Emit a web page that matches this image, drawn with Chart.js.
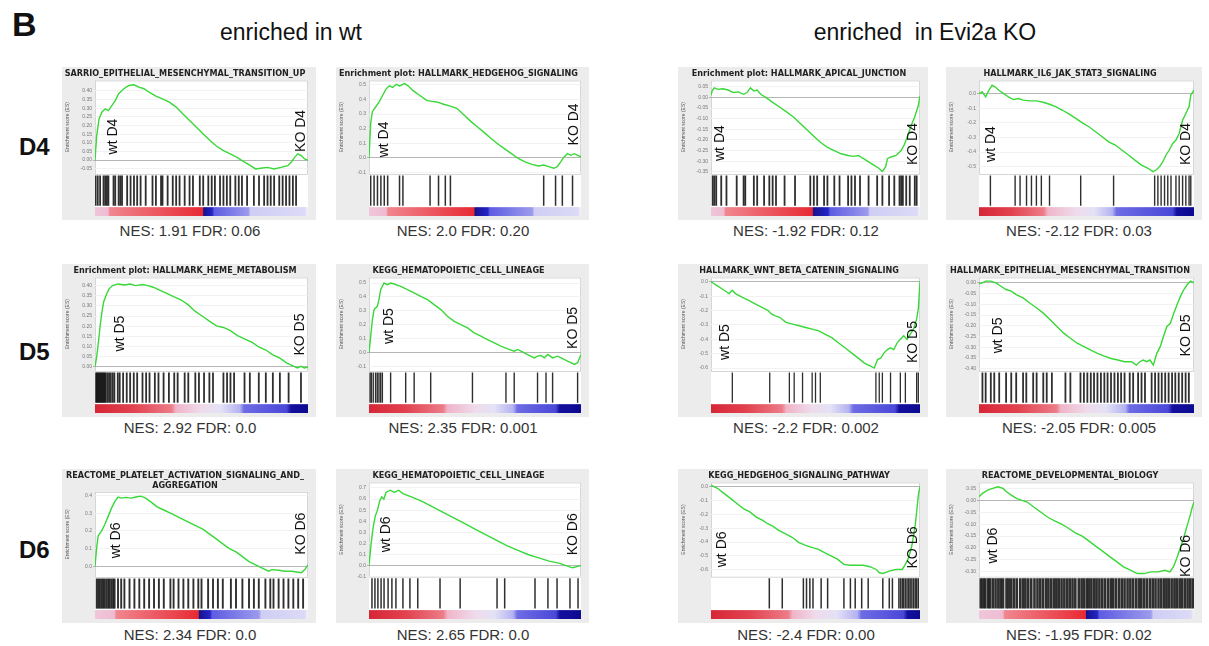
<!DOCTYPE html>
<html>
<head>
<meta charset="utf-8">
<title>GSEA enrichment plots</title>
<script src="https://cdn.jsdelivr.net/npm/chart.js"></script>
<style>
  body { margin: 0; background: #fff; font-family: "Liberation Sans", Arial, sans-serif; }
  #page { position: relative; width: 1209px; height: 646px; overflow: hidden; background: #fff; }
  .txt { position: absolute; white-space: pre; color: #111; line-height: 1; }
  .panel { position: absolute; }
  .nes { position: absolute; font-size: 15px; color: #333; white-space: nowrap; line-height: 1; transform: translate(-50%, -50%); }
  .day { position: absolute; font-size: 24px; font-weight: bold; color: #111; line-height: 1; transform: translateY(-50%); }
</style>
</head>
<body>
<div id="page">
  <div class="txt" style="left:12px;top:7px;font-size:34px;font-weight:bold;">B</div>
  <div class="txt" style="left:291px;top:32px;font-size:23px;transform:translate(-50%,-50%);">enriched in wt</div>
  <div class="txt" style="left:925px;top:32px;font-size:23px;transform:translate(-50%,-50%);">enriched  in Evi2a KO</div>
</div>

<script>
// ---------- data ----------
const rowDays = ['D4', 'D5', 'D6'];

const titles = [
  'SARRIO_EPITHELIAL_MESENCHYMAL_TRANSITION_UP',
  'Enrichment plot: HALLMARK_HEDGEHOG_SIGNALING',
  'Enrichment plot: HALLMARK_APICAL_JUNCTION',
  'HALLMARK_IL6_JAK_STAT3_SIGNALING',
  'Enrichment plot: HALLMARK_HEME_METABOLISM',
  'KEGG_HEMATOPOIETIC_CELL_LINEAGE',
  'HALLMARK_WNT_BETA_CATENIN_SIGNALING',
  'HALLMARK_EPITHELIAL_MESENCHYMAL_TRANSITION',
  ['REACTOME_PLATELET_ACTIVATION_SIGNALING_AND_', 'AGGREGATION'],
  'KEGG_HEMATOPOIETIC_CELL_LINEAGE',
  'KEGG_HEDGEHOG_SIGNALING_PATHWAY',
  'REACTOME_DEVELOPMENTAL_BIOLOGY'
];

const nesLabels = [
  'NES: 1.91 FDR: 0.06', 'NES: 2.0 FDR: 0.20', 'NES: -1.92 FDR: 0.12', 'NES: -2.12 FDR: 0.03',
  'NES: 2.92 FDR: 0.0', 'NES: 2.35 FDR: 0.001', 'NES: -2.2 FDR: 0.002', 'NES: -2.05 FDR: 0.005',
  'NES: 2.34 FDR: 0.0', 'NES: 2.65 FDR: 0.0', 'NES: -2.4 FDR: 0.00', 'NES: -1.95 FDR: 0.02'
];

// running enrichment score: [rank %, ES]
const curve1 = [[0,0],[0.8,0.142],[1.9,0.238],[3.2,0.277],[4.8,0.296],[6.3,0.286],[7.9,0.315],[9.5,0.344],[11.1,0.383],[13.5,0.412],[15.9,0.431],[18.3,0.435],[20.6,0.421],[23,0.412],[25.4,0.392],[28.6,0.369],[31.7,0.354],[34.9,0.335],[38.1,0.306],[41.3,0.267],[44.4,0.229],[47.6,0.19],[50.8,0.151],[54,0.113],[57.1,0.08],[60.3,0.055],[63.5,0.036],[66.7,0.016],[69.8,-0.009],[73,-0.032],[75.4,-0.051],[77.8,-0.047],[81,-0.042],[84.1,-0.051],[87.3,-0.042],[90.5,-0.032],[92.1,-0.013],[93.7,0.016],[95.2,0.036],[96.8,0.026],[98.4,0.007],[100,0]];
const curve2 = [[0,0],[0.8,0.239],[1.6,0.316],[3.2,0.35],[4.8,0.383],[6.4,0.427],[8,0.471],[9.6,0.493],[11.2,0.482],[12.8,0.504],[14.4,0.493],[16.8,0.509],[18.4,0.493],[20.8,0.46],[24,0.427],[27.2,0.394],[29.6,0.387],[32,0.383],[35.2,0.367],[38.4,0.354],[41.6,0.338],[44.8,0.294],[48,0.25],[51.2,0.212],[54.4,0.173],[57.6,0.133],[60.8,0.095],[64,0.062],[67.2,0.029],[70.4,-0.004],[73.6,-0.027],[76.8,-0.044],[80,-0.055],[82.4,-0.049],[84.8,-0.06],[87.2,-0.071],[88.8,-0.06],[90.4,-0.027],[92,0.007],[93.6,0.029],[95.2,0.018],[96.8,0.029],[98.4,0.018],[100,0.007]];
const curve3 = [[0,0.01],[0.5,0.03],[1.6,0.045],[3.3,0.038],[5.7,0.041],[8.2,0.035],[10.7,0.023],[13.1,0.026],[15.6,0.015],[17.2,0.023],[18.9,0.045],[20.5,0.03],[22.1,0.035],[23.8,0.015],[26.2,0],[29.5,-0.023],[32.8,-0.045],[36.1,-0.068],[39.3,-0.091],[42.6,-0.121],[45.9,-0.152],[49.2,-0.182],[52.5,-0.212],[55.7,-0.235],[59,-0.25],[62.3,-0.265],[65.6,-0.273],[68,-0.277],[70.5,-0.273],[73,-0.288],[75.4,-0.303],[77.9,-0.318],[80.3,-0.333],[82,-0.348],[83.6,-0.326],[84.4,-0.288],[86.1,-0.28],[88.5,-0.273],[91,-0.25],[92.6,-0.22],[94.3,-0.174],[95.9,-0.129],[97.5,-0.091],[99.2,-0.038],[100,0.008]];
const curve4 = [[0,0],[1.5,0.011],[3.1,-0.023],[4.6,0.023],[6.1,0.057],[7.6,0.045],[9.2,0.023],[11.5,0],[13.7,-0.023],[16,-0.041],[18.3,-0.034],[20.6,-0.045],[23.7,-0.05],[26.7,-0.05],[29.8,-0.059],[32.8,-0.073],[35.9,-0.091],[38.9,-0.114],[42,-0.141],[45,-0.17],[48.1,-0.2],[51.1,-0.227],[54.2,-0.261],[57.3,-0.295],[60.3,-0.33],[63.4,-0.352],[66.4,-0.386],[69.5,-0.42],[72.5,-0.455],[75.6,-0.489],[78.6,-0.511],[80.9,-0.534],[82.4,-0.523],[84,-0.5],[85.5,-0.466],[87,-0.42],[88.5,-0.386],[90.1,-0.341],[91.6,-0.318],[93.1,-0.273],[94.7,-0.182],[96.2,-0.136],[97.7,-0.091],[98.5,-0.011],[100,0.023]];
const curve5 = [[0,0],[0.8,0.051],[1.7,0.13],[2.5,0.21],[3.3,0.273],[4.1,0.321],[5.5,0.36],[6.6,0.384],[8.3,0.4],[10.7,0.408],[14,0.403],[16.5,0.408],[19,0.4],[22.3,0.405],[24.8,0.4],[27.3,0.392],[30.6,0.376],[33.9,0.36],[37.2,0.344],[40.5,0.329],[43.8,0.305],[47.1,0.273],[50.4,0.249],[53.7,0.225],[57,0.202],[60.3,0.194],[63.6,0.178],[66.9,0.154],[70.2,0.138],[73.6,0.122],[76.9,0.098],[80.2,0.083],[83.5,0.059],[86.8,0.043],[90.1,0.019],[93.4,0.003],[95,-0.005],[96.7,0.003],[98.3,-0.005],[100,0]];
const curve6 = [[0,0],[0.8,0.119],[1.6,0.238],[2.4,0.31],[3.9,0.333],[4.7,0.381],[5.5,0.452],[7.1,0.5],[8.7,0.488],[10.2,0.5],[11.8,0.493],[15,0.476],[18.1,0.452],[21.3,0.429],[24.4,0.405],[27.6,0.381],[30.7,0.345],[33.9,0.31],[37,0.262],[40.2,0.226],[43.3,0.202],[46.5,0.179],[49.6,0.143],[52.8,0.119],[55.9,0.095],[59.1,0.071],[62.2,0.048],[65.4,0.029],[68.5,0.012],[70.1,0.024],[71.7,0.012],[74.8,-0.012],[78,-0.036],[79.5,-0.024],[81.1,-0.019],[82.7,-0.036],[84.3,-0.012],[86.6,-0.036],[89,-0.024],[90.6,-0.036],[93.7,-0.06],[96.9,-0.083],[98.4,-0.071],[100,-0.012]];
const curve7 = [[0,0],[3.1,-0.028],[6.3,-0.059],[8.6,-0.082],[10.2,-0.059],[11.7,-0.082],[14.8,-0.106],[18,-0.129],[21.1,-0.153],[24.2,-0.176],[27.3,-0.2],[28.9,-0.224],[30.5,-0.235],[32.8,-0.247],[35.9,-0.282],[39.1,-0.294],[42.2,-0.306],[45.3,-0.318],[48.4,-0.329],[51.6,-0.341],[54.7,-0.365],[57.8,-0.388],[60.9,-0.424],[64.1,-0.459],[67.2,-0.494],[70.3,-0.529],[73.4,-0.565],[76.6,-0.588],[78.1,-0.6],[79.7,-0.541],[81.3,-0.529],[82.8,-0.494],[84.4,-0.471],[85.9,-0.459],[87.5,-0.471],[89.1,-0.424],[90.6,-0.4],[92.2,-0.376],[93.8,-0.4],[95.3,-0.365],[96.9,-0.329],[98.4,-0.259],[99.2,-0.188],[100,0]];
const curve8 = [[0,-0.005],[1.6,0],[3.1,0.008],[5.5,0.008],[7.9,0],[10.2,-0.016],[12.6,-0.031],[15,-0.039],[17.3,-0.055],[20.5,-0.07],[23.6,-0.094],[26.8,-0.117],[29.9,-0.141],[33.1,-0.172],[36.2,-0.203],[39.4,-0.234],[42.5,-0.258],[45.7,-0.281],[48.8,-0.297],[52,-0.313],[55.1,-0.328],[58.3,-0.341],[61.4,-0.352],[64.6,-0.359],[67.7,-0.367],[70.9,-0.367],[73.2,-0.383],[74.8,-0.367],[76.4,-0.359],[78,-0.367],[79.5,-0.359],[81.1,-0.383],[82.7,-0.328],[84.3,-0.297],[85.8,-0.25],[87.4,-0.203],[89,-0.188],[90.6,-0.141],[92.1,-0.102],[93.7,-0.063],[95.3,-0.031],[96.9,-0.008],[98.4,0.008],[100,0]];
const curve9 = [[0,0],[0.8,0.109],[1.5,0.173],[3.1,0.2],[4.6,0.236],[6.2,0.282],[7.7,0.327],[9.2,0.364],[10.8,0.391],[12.3,0.385],[14.6,0.389],[16.9,0.385],[19.2,0.391],[21.5,0.396],[23.8,0.385],[26.2,0.364],[29.2,0.336],[32.3,0.318],[35.4,0.3],[38.5,0.282],[41.5,0.264],[44.6,0.245],[47.7,0.227],[50.8,0.209],[53.8,0.182],[56.9,0.155],[60,0.127],[63.1,0.1],[66.2,0.082],[69.2,0.055],[72.3,0.027],[75.4,0.009],[78.5,-0.009],[81.5,-0.027],[83.1,-0.018],[86.2,-0.022],[89.2,-0.027],[92.3,-0.027],[95.4,-0.033],[96.9,-0.036],[98.5,-0.018],[100,0.009]];
const curve10 = [[0,0],[1,0.2],[2,0.35],[3,0.45],[4,0.5],[5,0.58],[6,0.62],[7,0.6],[8,0.66],[10,0.68],[12,0.66],[14,0.68],[16,0.65],[20,0.62],[25,0.58],[30,0.53],[35,0.48],[40,0.43],[45,0.38],[50,0.33],[55,0.28],[60,0.23],[65,0.18],[70,0.14],[75,0.1],[80,0.07],[85,0.04],[90,0.02],[93,0],[96,-0.02],[98,-0.01],[100,0]];
const curve11 = [[0,0.01],[3.1,-0.012],[6.2,-0.049],[9.3,-0.085],[12.4,-0.122],[15.5,-0.159],[18.6,-0.183],[21.7,-0.22],[24.8,-0.244],[27.1,-0.268],[29.5,-0.285],[32.6,-0.317],[35.7,-0.341],[38.8,-0.366],[41.9,-0.402],[45,-0.422],[48.1,-0.439],[51.2,-0.451],[54.3,-0.476],[57.4,-0.5],[60.5,-0.524],[63.6,-0.561],[66.7,-0.568],[69.8,-0.568],[72.9,-0.568],[76,-0.578],[79.1,-0.598],[80.6,-0.622],[82.2,-0.627],[85.3,-0.61],[88.4,-0.598],[91.5,-0.598],[93,-0.561],[94.6,-0.512],[96.1,-0.427],[97.7,-0.28],[98.4,-0.183],[99.2,-0.061],[100,0]];
const curve12 = [[0,0.015],[1.6,0.029],[4,0.043],[6.4,0.05],[8.8,0.057],[11.2,0.05],[12.8,0.036],[15.2,0.021],[17.6,0.007],[20,0],[22.4,-0.007],[25.6,-0.029],[28.8,-0.05],[32,-0.071],[35.2,-0.086],[38.4,-0.1],[41.6,-0.117],[44.8,-0.136],[48,-0.15],[51.2,-0.171],[54.4,-0.193],[57.6,-0.214],[60.8,-0.236],[64,-0.257],[67.2,-0.279],[70.4,-0.293],[73.6,-0.307],[76.8,-0.307],[80,-0.3],[83.2,-0.3],[86.4,-0.293],[88.8,-0.3],[90.4,-0.279],[92,-0.243],[93.6,-0.2],[95.2,-0.157],[96.8,-0.107],[98.4,-0.057],[99.2,-0.029],[100,-0.007]];

// gene set hits: rank %
const hits1 = [0.3,1.3,2.4,4.0,4.8,5.6,6.3,8.7,9.5,11.1,11.9,12.7,15.1,16.7,18.3,19.8,21.4,23.8,27.0,28.6,31.0,31.7,34.1,36.5,38.1,39.7,42.1,44.4,46.0,49.2,50.8,53.2,54.8,56.3,58.7,60.3,61.9,63.5,65.9,67.5,69.0,71.4,74.6,77.0,79.4,81.0,82.5,84.1,86.5,88.1,89.7,91.3,92.9,94.4];
const hits2 = [0.8,2.4,4.0,5.6,7.2,8.8,14.4,16.0,28.8,32.8,36.0,38.4,82.4,88.0,91.2,96.0];
const hits3 = [0.8,1.6,2.5,4.9,7.4,12.3,15.6,16.4,20.5,22.1,25.4,27.9,29.5,31.1,35.2,40.2,47.5,49.2,50.8,54.1,55.7,59.0,61.5,65.6,67.2,68.9,71.3,75.4,79.5,82.0,85.2,87.7,90.2,91.0,91.8,93.4,95.1,97.5,98.4];
const hits4 = [5.3,16.8,19.1,22.1,24.4,26.7,29.0,32.8,47.3,62.6,81.7,83.2,84.7,86.3,87.8,89.3,91.6,93.1,94.7,96.2,97.7,98.5];
const hits5 = [0.5,1.0,1.5,2.0,2.5,3.0,3.5,4.0,4.5,5.0,5.8,6.6,7.4,8.3,9.1,10.7,11.6,13.2,14.9,16.5,18.2,19.8,22.3,24.0,25.6,28.1,29.8,32.2,34.7,37.2,38.8,42.1,43.8,47.1,48.8,51.2,53.7,55.4,60.3,62.0,63.6,65.3,70.2,72.7,76.9,80.2,83.5,86.8,90.9,96.7];
const hits6 = [0.5,1.1,2.0,3.1,3.9,4.7,5.5,6.3,10.2,17.3,21.3,29.1,48.8,64.6,68.5,79.5,83.5,86.6,98.4];
const hits7 = [10.2,28.1,37.5,39.8,43.8,48.4,50.0,52.3,78.9,80.5,82.0,85.9,90.6,93.0,98.4,99.2];
const hits8 = [1.6,3.1,5.5,7.1,9.4,12.6,15.0,17.3,20.5,22.0,25.2,26.8,29.9,31.5,33.9,40.2,42.5,47.2,48.8,50.4,52.0,53.5,55.1,56.7,58.3,59.8,61.4,63.0,64.6,66.1,67.7,70.1,71.7,74.0,75.6,77.2,80.3,81.9,83.5,85.0,86.6,88.2,89.8,91.3,92.9,94.5,96.1,97.6];
const hits9 = [0.8,1.5,2.3,3.1,3.8,4.6,5.4,6.2,6.9,7.7,8.5,9.2,10.8,12.3,13.8,16.2,18.5,20.8,23.1,25.4,27.7,30.0,32.3,35.4,36.9,39.2,41.5,43.8,46.2,48.5,50.0,53.1,55.4,57.7,60.0,63.8,66.2,69.2,72.3,74.6,76.9,80.0,82.3,83.8,86.2,88.5,90.8,93.1,95.4,97.7];
const hits10 = [1.4,2.8,4.2,5.7,7.1,9.0,10.8,12.7,16.0,19.3,23.0,33.5,43.0,60.4,64.0,78.3,84.4,88.7,94.8,98.6];
const hits11 = [27.9,34.1,44.2,45.7,47.3,48.8,52.7,55.8,63.6,66.7,69.0,72.1,75.2,82.2,85.3,86.8,89.9,90.7,91.5,92.2,93.0,93.8,94.6,95.3,96.1,96.9,97.7,98.4,99.2];
const hits12 = [0.8,1.9,2.9,4.2,5.1,6.4,7.7,9.0,10.1,11.2,12.8,13.8,15.0,16.3,17.6,19.2,20.5,21.6,22.9,24.3,25.8,27.2,28.5,29.8,31.2,32.3,33.6,34.9,36.0,37.1,38.4,39.7,41.0,42.2,43.5,44.8,46.4,47.7,48.8,50.1,51.2,52.3,53.6,54.7,56.0,57.3,58.6,60.0,61.3,62.4,63.7,65.1,66.4,67.7,69.1,70.4,71.7,73.1,74.4,75.5,76.8,78.1,79.5,80.8,82.1,83.5,84.8,86.1,87.2,88.3,89.6,90.9,92.0,93.3,94.4,95.7,97.0,98.2,99.4];

// y tick labels of each ES axis
const ticks1 = [0.40,0.35,0.30,0.25,0.20,0.15,0.10,0.05,0.00,-0.05];
const ticks2 = [0.5,0.4,0.3,0.2,0.1,0.0,-0.1];
const ticks3 = [0.05,0.00,-0.05,-0.10,-0.15,-0.20,-0.25,-0.30,-0.35];
const ticks4 = [0.0,-0.1,-0.2,-0.3,-0.4,-0.5];
const ticks5 = [0.40,0.35,0.30,0.25,0.20,0.15,0.10,0.05,0.00];
const ticks6 = [0.5,0.4,0.3,0.2,0.1,0.0,-0.1];
const ticks7 = [0.0,-0.1,-0.2,-0.3,-0.4,-0.5,-0.6];
const ticks8 = [0.00,-0.05,-0.10,-0.15,-0.20,-0.25,-0.30,-0.35,-0.40];
const ticks9 = [0.4,0.3,0.2,0.1,0.0];
const ticks10 = [0.7,0.6,0.5,0.4,0.3,0.2,0.1,0.0,-0.1];
const ticks11 = [0.0,-0.1,-0.2,-0.3,-0.4,-0.5,-0.6];
const ticks12 = [0.05,0.00,-0.05,-0.10,-0.15,-0.20,-0.25,-0.30];

// visible ES axis range [min, max]
const esRange = [[-0.08,0.46],[-0.11,0.53],[-0.36,0.08],[-0.55,0.09],[-0.02,0.44],[-0.13,0.54],[-0.62,0.03],[-0.41,0.025],[-0.06,0.42],[-0.1,0.75],[-0.65,0.03],[-0.32,0.075]];

const curves = [curve1,curve2,curve3,curve4,curve5,curve6,curve7,curve8,curve9,curve10,curve11,curve12];
const hitSets = [hits1,hits2,hits3,hits4,hits5,hits6,hits7,hits8,hits9,hits10,hits11,hits12];
const tickSets = [ticks1,ticks2,ticks3,ticks4,ticks5,ticks6,ticks7,ticks8,ticks9,ticks10,ticks11,ticks12];

// ---------- layout / style ----------
const cols = [{x:62,w:254},{x:336,w:253},{x:678,w:250},{x:946,w:256}];
const rows = [{y:67,h:153},{y:264,h:153},{y:469,h:154}];
const nesX = [190,463,806,1079];
const nesY = [230,427,634];
const dayY = [147,352,550];
const GREEN = '#38d838';
const AXIS_W = 33;

// ranked-list colour bar: pink start, red, navy, blue, lavender
function barA(a, b, c, d) {
  return [[0,'#f0c6da'],[a-0.01,'#eebcd2'],[a,'#f0868f'],[b-0.005,'#e82a33'],[b,'#16128e'],[c,'#2424c4'],[c+0.01,'#5e5ce2'],[d,'#9c9aec'],[d+0.01,'#cfcdf4'],[0.985,'#dcdaf6'],[1,'#f4f4fb']];
}
// red -> pink -> lavender -> blue -> navy
function barB(a, b, c, d) {
  return [[0,'#d62636'],[a*0.5,'#e2424f'],[a,'#ec7c88'],[a+0.02,'#f0b4c8'],[b,'#efdbeb'],[(b+c)/2,'#e4e2f6'],[c,'#b4b2f0'],[c+0.02,'#6e6ce4'],[d,'#4a48d8'],[d+0.02,'#14109e'],[1,'#0c0a90']];
}

const panelStyle = [
  {col:0,row:0,dec:2,wt:[0.087,0.6],ko:[0.97,0.54],bar:barA(0.07,0.51,0.55,0.72),hitW:1.8},
  {col:1,row:0,dec:1,wt:[0.072,0.63],ko:[0.97,0.47],bar:barA(0.09,0.5,0.56,0.77),hitW:1.5},
  {col:2,row:0,dec:2,wt:[0.045,0.67],ko:[0.965,0.68],bar:barA(0.07,0.49,0.56,0.75),hitW:1.8},
  {col:3,row:0,dec:1,wt:[0.055,0.68],ko:[0.965,0.68],bar:barB(0.3,0.45,0.62,0.9),hitW:1.4},
  {col:0,row:1,dec:2,wt:[0.116,0.6],ko:[0.965,0.61],bar:barB(0.36,0.5,0.68,0.9),hitW:1.8},
  {col:1,row:1,dec:1,wt:[0.094,0.52],ko:[0.965,0.54],bar:barB(0.35,0.5,0.68,0.88),hitW:1.4},
  {col:2,row:1,dec:1,wt:[0.07,0.69],ko:[0.965,0.69],bar:barB(0.34,0.48,0.66,0.88),hitW:1.3},
  {col:3,row:1,dec:2,wt:[0.087,0.62],ko:[0.965,0.62],bar:barB(0.36,0.5,0.68,0.88),hitW:1.8},
  {col:0,row:2,dec:1,wt:[0.1,0.57],ko:[0.97,0.49],bar:barA(0.1,0.49,0.54,0.77),hitW:1.9,fES:0.67,fH:0.26},
  {col:1,row:2,dec:1,wt:[0.08,0.55],ko:[0.965,0.55],bar:barB(0.35,0.5,0.68,0.88),hitW:1.5},
  {col:2,row:2,dec:1,wt:[0.054,0.71],ko:[0.965,0.69],bar:barB(0.37,0.5,0.7,0.92),hitW:1.5},
  {col:3,row:2,dec:2,wt:[0.064,0.67],ko:[0.965,0.78],bar:barA(0.12,0.5,0.55,0.8),hitW:2.6}
];

const page = document.getElementById('page');

rowDays.forEach((d, r) => {
  const el = document.createElement('div');
  el.className = 'day';
  el.style.left = '19px';
  el.style.top = dayY[r] + 'px';
  el.textContent = d;
  page.appendChild(el);
});

function makePanel(i) {
  const st = panelStyle[i];
  const col = cols[st.col], row = rows[st.row];
  const day = rowDays[st.row];
  const div = document.createElement('div');
  div.className = 'panel';
  div.style.left = col.x + 'px';
  div.style.top = row.y + 'px';
  const canvas = document.createElement('canvas');
  canvas.width = col.w;
  canvas.height = row.h;
  div.appendChild(canvas);
  page.appendChild(div);

  const nes = document.createElement('div');
  nes.className = 'nes';
  nes.style.left = nesX[st.col] + 'px';
  nes.style.top = nesY[st.row] + 'px';
  nes.textContent = nesLabels[i];
  page.appendChild(nes);

  // split chart area: ES plot on top, hit lines, then colour bar
  const [lo, hi] = esRange[i];
  const fES = st.fES || 0.69, fH = st.fH || 0.245;
  const span = (hi - lo) / fES;
  const hitBot = lo - fH * span;
  const hitMid = (lo + hitBot) / 2;
  const ticks = tickSets[i];

  const halfHit = chart => {
    const y = chart.scales.y;
    return Math.abs(y.getPixelForValue(lo) - y.getPixelForValue(hitBot)) / 2 - 1.5;
  };

  const gsea = {
    id: 'gsea' + i,
    beforeDraw(chart) {
      const { ctx, chartArea: a, scales: { y } } = chart;
      const esBot = y.getPixelForValue(lo);
      const hBot = y.getPixelForValue(hitBot);
      ctx.save();
      ctx.fillStyle = '#ececec';
      ctx.fillRect(0, 0, chart.width, chart.height);
      ctx.fillStyle = '#ffffff';
      ctx.fillRect(a.left, a.top, a.right - a.left, hBot - a.top);
      const g = ctx.createLinearGradient(a.left, 0, a.right, 0);
      st.bar.forEach(s => g.addColorStop(Math.min(1, Math.max(0, s[0])), s[1]));
      ctx.fillStyle = g;
      ctx.fillRect(a.left, hBot, a.right - a.left, a.bottom - hBot);
      ctx.strokeStyle = '#cdcdcd';
      ctx.lineWidth = 0.8;
      ctx.strokeRect(a.left + 0.5, a.top + 0.5, a.right - a.left - 1, esBot - a.top);
      // y axis title
      ctx.translate(6, (a.top + esBot) / 2);
      ctx.rotate(-Math.PI / 2);
      ctx.fillStyle = '#555';
      ctx.font = '5px "Liberation Sans", Arial, sans-serif';
      ctx.textAlign = 'center';
      ctx.textBaseline = 'middle';
      ctx.fillText('Enrichment score (ES)', 0, 0);
      ctx.restore();
    },
    afterDatasetsDraw(chart) {
      const { ctx, chartArea: a, scales: { y } } = chart;
      const esBot = y.getPixelForValue(lo);
      const w = a.right - a.left, h = esBot - a.top;
      const put = (txt, p) => {
        ctx.save();
        ctx.translate(a.left + p[0] * w, a.top + p[1] * h);
        ctx.rotate(-Math.PI / 2);
        ctx.fillStyle = '#111';
        ctx.font = '14px "Liberation Sans", Arial, sans-serif';
        ctx.textAlign = 'center';
        ctx.textBaseline = 'middle';
        ctx.fillText(txt, 0, 0);
        ctx.restore();
      };
      put('wt ' + day, st.wt);
      put('KO ' + day, st.ko);
    }
  };

  new Chart(canvas, {
    type: 'line',
    data: {
      datasets: [
        {
          data: curves[i].map(p => ({ x: p[0], y: p[1] })),
          borderColor: GREEN, borderWidth: 1.4, pointRadius: 0, tension: 0, order: 1
        },
        {
          data: hitSets[i].map(h => ({ x: h, y: hitMid })),
          showLine: false, pointStyle: 'line', rotation: 90,
          pointRadius: c => halfHit(c.chart), pointHoverRadius: c => halfHit(c.chart),
          borderColor: 'rgba(10,10,10,0.85)', borderWidth: st.hitW, order: 2
        }
      ]
    },
    options: {
      responsive: false, animation: false, events: [],
      layout: { padding: { left: 0, right: 8, top: 0, bottom: 2 } },
      plugins: {
        legend: { display: false },
        tooltip: { enabled: false },
        title: {
          display: true, text: titles[i], color: '#222',
          font: { family: '"Liberation Sans Narrow", "DejaVu Sans Condensed", "Liberation Sans", Arial, sans-serif', size: 9, weight: 'bold', lineHeight: 1.05 },
          padding: { top: 2, bottom: 2 }
        }
      },
      scales: {
        x: { type: 'linear', min: 0, max: 100, display: false },
        y: {
          type: 'linear', min: hi - span, max: hi,
          afterBuildTicks: s => { s.ticks = ticks.map(v => ({ value: v })); },
          afterFit: s => { s.width = AXIS_W; },
          ticks: { font: { size: 5 }, color: '#777', padding: 1, callback: v => v.toFixed(st.dec) },
          grid: {
            color: c => (c.tick && Math.abs(c.tick.value) < 1e-9) ? '#a2a2a2' : '#efefef',
            lineWidth: 0.8, tickLength: 2
          },
          border: { display: false }
        }
      }
    },
    plugins: [gsea]
  });
}

for (let i = 0; i < 12; i++) makePanel(i);
</script>
</body>
</html>
